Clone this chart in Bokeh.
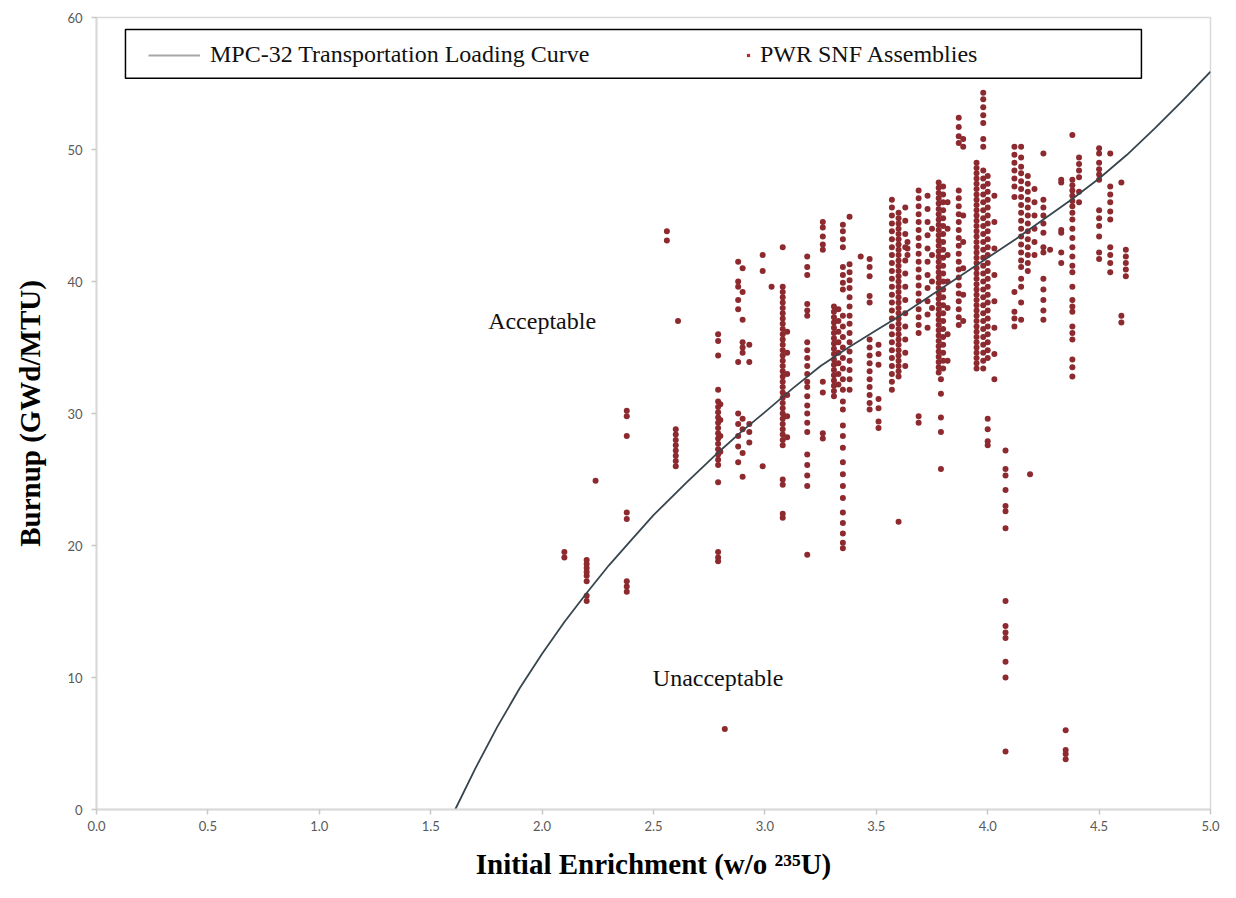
from bokeh.plotting import figure
from bokeh.models import (Range1d, Label, BoxAnnotation, Legend, LegendItem,
                          FixedTicker, NumeralTickFormatter)
from bokeh.embed import file_html
from bokeh.resources import INLINE

# ---------------- data ----------------
x_ticks = [0.0, 0.5, 1.0, 1.5, 2.0, 2.5, 3.0, 3.5, 4.0, 4.5, 5.0]
y_ticks = [0, 10, 20, 30, 40, 50, 60]

# MPC-32 transportation loading curve
curve_enrichment = [1.61, 1.70, 1.80, 1.90, 2.00, 2.10, 2.20, 2.30, 2.40, 2.50,
                    2.65, 2.80, 2.90, 3.00, 3.125, 3.25, 3.375, 3.50, 3.625,
                    3.75, 3.875, 4.00, 4.125, 4.25, 4.375, 4.50, 4.625, 4.75,
                    4.875, 5.00]
curve_burnup = [0.0, 3.1, 6.3, 9.2, 11.8, 14.2, 16.4, 18.5, 20.4, 22.3,
                24.8, 27.2, 28.7, 30.1, 31.9, 33.6, 35.0, 36.3, 37.6,
                39.0, 40.4, 41.8, 43.2, 44.7, 46.2, 47.8, 49.6, 51.6,
                53.7, 55.9]

# PWR SNF assemblies: (initial enrichment, [burnups])
snf_below_2_7 = [
    (2.10, [19.5, 19.1]),
    (2.20, [15.8, 16.2, 17.3, 17.7, 18.0, 18.3, 18.6, 18.9]),
    (2.24, [24.9]),
    (2.38, [30.2, 29.8, 28.3, 22.5, 22.0, 17.3, 16.9, 16.5]),
    (2.56, [43.8, 43.1]),
    (2.60, [26.0, 26.4, 26.8, 27.2, 27.6, 28.0, 28.4, 28.8]),
    (2.61, [37.0]),
]
snf_2_7_to_3_05 = [
    (2.79, [36.0, 35.5, 34.4, 31.8, 30.9, 30.5, 30.1, 29.7, 29.3, 28.9, 28.5,
            28.1, 27.7, 27.3, 26.9, 26.5, 26.1, 24.8, 19.5, 19.1, 18.8]),
    (2.80, [30.7, 29.5, 28.3, 27.1]),
    (2.82, [6.1]),
    (2.88, [41.5, 40.0, 39.6, 38.6, 37.9, 33.9, 30.0, 29.2, 28.3, 27.5, 26.3]),
    (2.90, [41.0, 39.2, 37.1, 35.4, 35.0, 34.6, 29.6, 28.8, 27.0, 25.2]),
    (2.93, [35.2, 33.9, 29.2, 28.6, 27.8]),
    (2.99, [42.0, 40.8, 26.0]),
    (3.03, [39.6]),
]
snf_3_05_to_3_55 = [
    (3.08, [42.6, 39.6, 39.2, 38.8, 38.4, 38.0, 37.6, 37.2, 36.8, 36.4, 36.0,
            35.6, 35.2, 34.8, 34.4, 34.0, 33.6, 33.2, 32.8, 32.4, 32.0, 31.6,
            31.2, 30.8, 30.4, 30.0, 29.6, 29.2, 28.8, 28.4, 28.0, 27.6, 25.0,
            24.6, 22.4, 22.1]),
    (3.10, [36.2, 34.6, 33.0, 31.4, 29.8, 28.2]),
    (3.19, [41.9, 41.1, 40.5, 38.3, 37.8, 37.4, 35.4, 34.8, 34.2, 33.6, 33.0,
            32.4, 32.0, 31.3, 30.6, 30.0, 29.3, 28.6, 26.9, 26.1, 25.3, 24.5,
            19.3]),
    (3.26, [44.5, 44.1, 43.4, 42.8, 42.4, 32.4, 31.6, 28.5, 28.1]),
    (3.31, [38.1, 37.7, 37.3, 36.9, 36.5, 36.1, 35.7, 35.3, 34.9, 34.5, 34.1,
            33.7, 33.3, 32.9, 32.5, 32.1, 31.7, 31.3]),
    (3.33, [37.9, 37.0, 36.2, 35.4, 34.6, 33.8, 33.0, 32.2]),
    (3.35, [44.3, 43.8, 43.2, 42.6, 41.1, 40.5, 39.9, 39.4, 37.4, 36.6, 35.8,
            35.0, 34.2, 33.4, 32.6, 31.8, 30.9, 30.3, 29.1, 28.3, 27.4, 26.3,
            25.4, 24.5, 23.6, 22.5, 21.7, 20.9, 20.2, 19.8]),
    (3.38, [44.9, 41.3, 40.7, 40.1, 39.5, 38.8, 38.1, 37.4, 36.8, 36.1, 35.4,
            34.7, 34.0, 33.3, 32.6, 31.8]),
    (3.43, [41.9]),
    (3.47, [41.7, 41.1, 40.4, 38.9, 38.4, 35.6, 35.0, 34.4, 33.8, 33.2, 32.6,
            32.0, 31.4, 30.8, 30.3]),
    (3.51, [35.2, 34.5, 33.7, 31.1, 30.4, 29.4, 28.9]),
]
snf_3_55_to_4_05 = [
    (3.57, [46.2, 45.6, 45.0, 44.4, 43.8, 43.2, 42.6, 42.0, 41.4, 40.8, 40.2,
            39.6, 39.0, 38.4, 37.8, 37.2, 36.6, 36.0, 35.4, 34.8, 34.2, 33.6,
            33.0, 32.4, 31.8]),
    (3.60, [45.2, 44.8, 44.4, 44.0, 43.6, 43.2, 42.8, 42.4, 42.0, 41.6, 41.2,
            40.8, 40.4, 40.0, 39.6, 39.2, 38.8, 38.4, 38.0, 37.6, 37.2, 36.8,
            36.4, 36.0, 35.6, 35.2, 34.8, 34.4, 34.0, 33.6, 33.2, 32.8, 21.8]),
    (3.63, [45.6, 44.6, 43.6, 42.6, 41.6, 40.6, 39.6, 38.6, 37.6, 36.6, 35.6,
            34.6, 33.6]),
    (3.64, [43.0, 42.5, 42.0]),
    (3.69, [46.9, 46.3, 45.7, 45.1, 44.5, 43.9, 43.3, 42.7, 42.1, 41.5, 40.9,
            40.3, 39.7, 39.1, 38.5, 37.9, 37.3, 36.7, 36.1, 29.8, 29.3]),
    (3.73, [46.5, 45.5, 44.5, 43.5, 42.5, 41.5, 40.5, 39.5, 38.5, 37.5, 36.5]),
    (3.75, [44.0, 42.0, 40.0, 38.0]),
    (3.78, [47.5, 47.1, 46.7, 46.3, 45.9, 45.5, 45.1, 44.7, 44.3, 43.9, 43.5,
            43.1, 42.7, 42.3, 41.9, 41.5, 41.1, 40.7, 40.3, 39.9, 39.5, 39.1,
            38.7, 38.3, 37.9, 37.5, 37.1, 36.7, 36.3, 35.9, 35.5, 35.1, 34.7,
            34.3, 33.9, 33.5, 33.1]),
    (3.79, [32.6, 31.5, 29.7, 28.6, 25.8]),
    (3.80, [47.2, 46.6, 46.0, 45.4, 44.8, 44.2, 43.6, 43.0, 42.4, 41.8, 41.2,
            40.6, 40.0, 39.4, 38.8, 38.2, 37.6, 37.0, 36.4, 35.8, 35.2, 34.6,
            34.0, 33.4]),
    (3.82, [46.0, 44.0, 42.0, 40.0, 38.0, 36.0, 34.0]),
    (3.87, [52.4, 51.7, 51.0, 50.5, 46.9, 46.3, 45.7, 45.1, 44.5, 43.9, 43.3,
            42.7, 42.1, 41.5, 40.9, 40.3, 39.7, 39.1, 38.5, 37.9, 37.3, 36.7]),
    (3.89, [50.8, 50.2, 45.0, 43.0, 41.0, 39.0, 37.0]),
    (3.95, [49.0, 48.6, 48.2, 47.8, 47.4, 47.0, 46.6, 46.2, 45.8, 45.4, 45.0,
            44.6, 44.2, 43.8, 43.4, 43.0, 42.6, 42.2, 41.8, 41.4, 41.0, 40.6,
            40.2, 39.8, 39.4, 39.0, 38.6, 38.2, 37.8, 37.4, 37.0, 36.6, 36.2,
            35.8, 35.4, 35.0, 34.6, 34.2, 33.8, 33.4]),
    (3.98, [54.3, 53.8, 53.2, 52.6, 52.0, 50.8, 50.2, 48.4, 47.8, 47.2, 46.6,
            46.0, 45.4, 44.8, 44.2, 43.6, 43.0, 42.4, 41.8, 41.2, 40.6, 40.0,
            39.4, 38.8, 38.2, 37.6, 37.0, 36.4, 35.8, 35.2, 34.6, 34.0, 33.4]),
    (4.00, [48.0, 47.4, 46.8, 46.2, 45.6, 45.0, 44.4, 43.8, 43.2, 42.6, 42.0,
            41.4, 40.8, 40.2, 39.6, 39.0, 38.4, 37.8, 37.2, 36.6, 36.0, 35.4,
            34.8, 34.2, 29.6, 28.8, 27.9, 27.6]),
    (4.03, [46.5, 44.5, 42.5, 40.5, 38.5, 36.5, 34.5, 32.6]),
]
snf_above_4_05 = [
    (4.08, [27.2, 25.8, 25.3, 24.2, 23.0, 22.6, 21.3, 15.8, 13.9, 13.4, 13.0,
            11.2, 10.0, 4.4]),
    (4.12, [50.2, 49.6, 49.0, 48.4, 47.8, 47.2, 46.4, 39.2, 37.7, 37.2, 36.6]),
    (4.15, [50.2, 49.4, 48.7, 48.2, 47.6, 47.0, 46.4, 45.8, 45.2, 44.6, 44.0,
            43.4, 42.8, 42.2, 41.6, 41.1, 40.2, 39.6, 38.4, 37.1]),
    (4.18, [48.0, 47.4, 46.8, 46.2, 45.6, 45.0, 44.4, 43.8, 43.2, 42.6, 42.0,
            41.4, 40.8]),
    (4.19, [25.4]),
    (4.21, [47.0, 46.0, 45.0, 44.0, 43.0, 42.0]),
    (4.25, [49.7, 46.2, 45.6, 45.0, 44.4, 43.7, 42.6, 42.2, 40.2, 39.4, 38.6,
            37.8, 37.1]),
    (4.28, [42.4]),
    (4.33, [47.7, 47.5, 43.9, 43.7, 42.2, 41.4]),
    (4.35, [6.0, 4.5, 4.2, 3.8]),
    (4.38, [51.1, 47.7, 47.3, 46.9, 46.5, 46.1, 45.7, 45.2, 44.7, 44.0, 43.3,
            42.6, 41.9, 41.2, 40.7, 39.6, 38.6, 38.1, 37.7, 36.6, 36.1, 35.6,
            34.1, 33.5, 32.8]),
    (4.41, [49.4, 48.9, 48.4, 47.9, 46.8, 46.0]),
    (4.50, [50.1, 49.7, 49.0, 48.5, 48.1, 47.7, 45.4, 44.8, 44.2, 43.4, 42.2,
            41.7]),
    (4.55, [49.7, 47.2, 46.6, 46.0, 45.3, 44.7, 42.6, 42.0, 41.4, 40.7]),
    (4.60, [47.5, 37.4, 36.9]),
    (4.62, [42.4, 41.9, 41.4, 40.9, 40.4]),
]

snf_x, snf_y = [], []
for group in (snf_below_2_7, snf_2_7_to_3_05, snf_3_05_to_3_55,
              snf_3_55_to_4_05, snf_above_4_05):
    for enr, burnups in group:
        snf_x.extend([enr] * len(burnups))
        snf_y.extend(burnups)

# ---------------- figure ----------------
SERIF = "Liberation Serif"
p = figure(width=1220, height=882, x_range=Range1d(0, 5), y_range=Range1d(0, 60),
           output_backend="svg", toolbar_location=None,
           min_border_left=96, min_border_right=10, min_border_top=17,
           min_border_bottom=70)
p.grid.visible = False
p.outline_line_color = "#d9d9d9"
p.outline_line_width = 1.5
p.background_fill_color = "white"
p.border_fill_color = "white"

pts = p.scatter(snf_x, snf_y, size=6, color="#8c2a2f", line_width=0)
crv = p.line(curve_enrichment, curve_burnup, line_color="#37464e", line_width=1.8,
             line_join="round")

# legend proxies (drawn nowhere in the plot area)
nan = float("nan")
leg_line = p.line([nan], [nan], line_color="#a6a6a6", line_width=1.8)
leg_pts = p.scatter([nan], [nan], marker="square", size=4, color="#c0272d",
                    line_width=0)

for ax in (p.xaxis[0], p.yaxis[0]):
    ax.axis_line_color = "#d9d9d9"
    ax.axis_line_width = 2
    ax.major_tick_line_color = "#c8c8c8"
    ax.major_tick_line_width = 1.5
    ax.major_tick_in = 0
    ax.major_tick_out = 5
    ax.minor_tick_line_color = None
    ax.major_label_text_color = "#595959"
    ax.major_label_text_font = "Lato"
    ax.major_label_text_font_size = "13px"
    ax.axis_label_text_font = SERIF
    ax.axis_label_text_font_style = "bold"
    ax.axis_label_text_font_size = "29px"
    ax.axis_label_text_color = "black"

p.xaxis.ticker = FixedTicker(ticks=x_ticks)
p.xaxis.formatter = NumeralTickFormatter(format="0.0")
p.yaxis.ticker = FixedTicker(ticks=y_ticks)
p.xaxis.major_label_standoff = 6
p.yaxis.major_label_standoff = 9
p.xaxis.axis_label = "Initial Enrichment (w/o \u00b2\u00b3\u2075U)"
p.yaxis.axis_label = "Burnup (GWd/MTU)"
p.xaxis.axis_label_standoff = 14
p.yaxis.axis_label_standoff = 18

# legend frame
p.add_layout(BoxAnnotation(left=0.13, right=4.69, bottom=55.4, top=59.1,
                           fill_alpha=0, line_color="black", line_alpha=1.0,
                           line_width=1.5))

common = dict(orientation="horizontal", border_line_alpha=0,
              background_fill_alpha=0, label_text_font=SERIF,
              label_text_font_size="24px", padding=10, margin=0,
              label_text_color="#111111")
legend1 = Legend(items=[LegendItem(label="MPC-32 Transportation Loading Curve",
                                   renderers=[leg_line])],
                 location=(42, 731), glyph_width=52, label_standoff=10, **common)
legend2 = Legend(items=[LegendItem(label="PWR SNF Assemblies",
                                   renderers=[leg_pts])],
                 location=(638, 731), glyph_width=8, label_standoff=8, **common)
p.add_layout(legend1)
p.add_layout(legend2)

p.add_layout(Label(x=2.0, y=37.0, text="Acceptable", text_align="center",
                   text_baseline="middle", text_font=SERIF, text_font_size="24px",
                   text_color="#111111"))
p.add_layout(Label(x=2.79, y=10.0, text="Unacceptable", text_align="center",
                   text_baseline="middle", text_font=SERIF, text_font_size="24px",
                   text_color="#111111"))

open("out.html", "w").write(file_html(p, INLINE))
